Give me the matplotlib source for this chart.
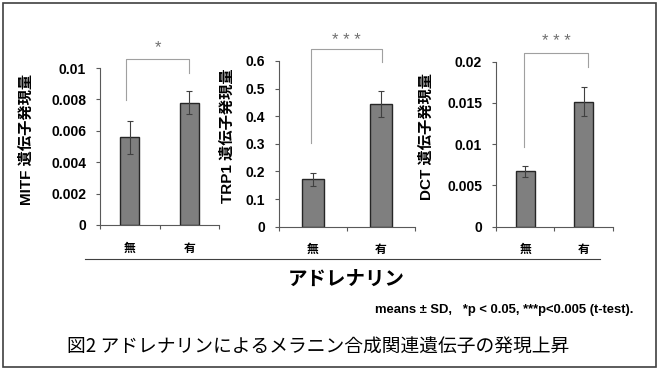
import numpy as np
import matplotlib.pyplot as plt
from matplotlib.lines import Line2D
from matplotlib.patches import Rectangle

# data
groups = ["無", "有"]
genes = ["MITF", "TRP1", "DCT"]
mitf_mean = [0.0056, 0.0078]
mitf_sd = [0.00105, 0.00075]
trp1_mean = [0.171, 0.444]
trp1_sd = [0.024, 0.047]
dct_mean = [0.0067, 0.01515]
dct_sd = [0.00065, 0.00175]
ymax = [0.01, 0.6, 0.02]
ystep = [0.002, 0.1, 0.005]
signif = ["*", "* * *", "* * *"]
# bracket: top height, left leg bottom, right leg bottom (data units)
bracket_top = [0.01055, 0.643, 0.02102]
bracket_left = [0.00796, 0.304, 0.0097]
bracket_right = [0.0097, 0.598, 0.0194]
bracket_x = [(-0.06, 1.0), (-0.03, 1.02), (-0.02, 1.08)]
star_y = [0.01127, 0.676, 0.02242]

means = [mitf_mean, trp1_mean, dct_mean]
sds = [mitf_sd, trp1_sd, dct_sd]

W, H = 659, 372
fig = plt.figure(figsize=(W / 100, H / 100), dpi=100)

# axes boxes in pixels: left, right, bottom(y0), top
boxes = [(100, 219, 225, 68), (279, 415, 226.7, 61), (496, 612.7, 226.7, 61.7)]
label_pos = [(27, 139), (228, 136), (427, 137)]

CJK = ["Liberation Sans", "Noto Sans CJK JP"]
axis_col = "#595959"

for i in range(3):
   l, r, b, t = boxes[i]
   ax = fig.add_axes([l / W, 1 - b / H, (r - l) / W, (b - t) / H])
   x = np.arange(len(groups))
   ax.bar(x, means[i], width=0.32, color="#7f7f7f", edgecolor="#262626", linewidth=1, zorder=2)
   ax.errorbar(x, means[i], yerr=sds[i], fmt="none", ecolor="#404040", elinewidth=0.8,
               capsize=2, capthick=0.8, zorder=3)
   ax.set_xlim(-0.5, 1.5)
   ax.set_ylim(0, ymax[i])
   ticks = np.arange(0, ymax[i] + ystep[i] / 2, ystep[i])
   ax.set_yticks(ticks)
   ax.set_yticklabels(["{:g}".format(round(v, 4)) for v in ticks],
                      fontfamily="Liberation Sans", fontweight="bold", fontsize=10)
   ax.set_xticks(x)
   ax.set_xticklabels(groups, fontfamily="Noto Sans CJK JP", fontweight="bold", fontsize=8.5)
   ax.set_xticks([-0.5, 0.5, 1.5], minor=True)
   ax.tick_params(axis="x", which="major", length=0, pad=12)
   ax.tick_params(axis="x", which="minor", length=3, color=axis_col, width=0.8)
   ax.tick_params(axis="y", length=3, color=axis_col, width=0.8, pad=7)
   for s in ["top", "right"]:
      ax.spines[s].set_visible(False)
   for s in ["left", "bottom"]:
      ax.spines[s].set_color(axis_col)
      ax.spines[s].set_linewidth(0.8)

   # significance bracket
   x0, x1 = bracket_x[i]
   ax.plot([x0, x0, x1, x1], [bracket_left[i], bracket_top[i], bracket_top[i], bracket_right[i]],
           color="#a0a0a0", linewidth=0.8, clip_on=False)
   ax.text((x0 + x1) / 2, star_y[i], signif[i], ha="center", va="center",
           fontsize=12, color="#707070", fontfamily="Liberation Sans")

   lx, ly = label_pos[i]
   fig.text(lx / W, 1 - ly / H, genes[i] + " 遺伝子発現量", rotation=90, ha="center", va="center",
            fontsize=11, fontweight="bold", family=CJK)

# common x label line and text
fig.add_artist(Line2D([85 / W, 600 / W], [1 - 259 / H, 1 - 259 / H], color="#404040", linewidth=0.8))
fig.text(346 / W, 1 - 279 / H, "アドレナリン", ha="center", va="center", fontsize=14,
         fontweight="bold", family=["Noto Sans CJK JP"])
fig.text(633 / W, 1 - 310 / H, "means ± SD,   *p < 0.05, ***p<0.005 (t-test).", ha="right",
         va="center", fontsize=9.4, fontweight="bold", family=["Liberation Sans", "DejaVu Sans"])
fig.text(67 / W, 1 - 347 / H, "図2 アドレナリンによるメラニン合成関連遺伝子の発現上昇", ha="left",
         va="center", fontsize=13.5, family=["Noto Sans CJK JP"])

# outer frame
fig.add_artist(Rectangle((3 / W, 1 - 367 / H), 653 / W, 364 / H, fill=False,
                         edgecolor="#404040", linewidth=1.2))

fig.savefig("out.png", dpi=100)
